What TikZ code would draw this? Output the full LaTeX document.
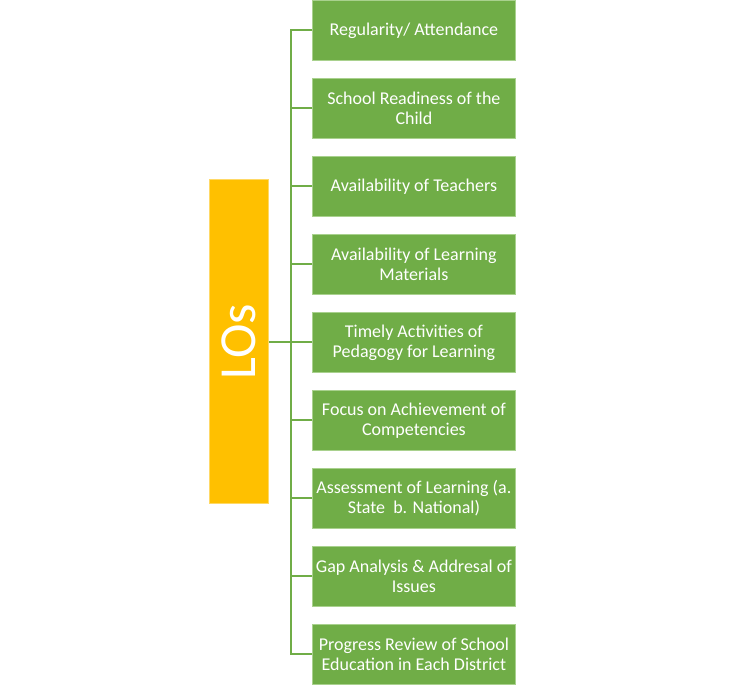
\documentclass[tikz,border=0pt]{standalone}
\usepackage{fontspec}
\setmainfont{Carlito}
\usepackage{tikz}
\usetikzlibrary{positioning}
\definecolor{leafgreen}{RGB}{112,173,71}
\definecolor{leafedge}{RGB}{169,209,142}
\definecolor{rootgold}{RGB}{255,192,0}

\begin{document}
\begin{tikzpicture}[
    x=1pt, y=-1pt,
    node distance=18pt,
    leaf/.style={draw=leafedge, line width=0.8pt, fill=leafgreen, text=white, minimum width=202.2pt, minimum height=59.2pt, inner sep=1pt, align=center, font=\fontsize{18}{20}\selectfont},
    root/.style={draw=rootgold!60, line width=0.8pt, fill=rootgold, text=white, minimum width=324.2pt, minimum height=59.2pt, rotate=90, font=\fontsize{52}{56}\selectfont},
    link/.style={draw=leafgreen, line width=2pt}
  ]
  \useasboundingbox (0,0) rectangle (729,686);

  % Root
  \node[root] (los) at (239,341.5) {LOs};

  % Leaves
  \node[leaf, anchor=north west] (b1) at (312.4,0.4) {Regularity/ Attendance};
  \node[leaf, below=of b1] (b2) {School Readiness of the\\Child};
  \node[leaf, below=of b2] (b3) {Availability of Teachers};
  \node[leaf, below=of b3] (b4) {Availability of Learning\\Materials};
  \node[leaf, below=of b4] (b5) {Timely Activities of\\Pedagogy for Learning};
  \node[leaf, below=of b5] (b6) {Focus on Achievement of\\Competencies};
  \node[leaf, below=of b6] (b7) {Assessment of Learning (a.\\State\ \ b. National)};
  \node[leaf, below=of b7] (b8) {Gap Analysis \& Addresal of\\Issues};
  \node[leaf, below=of b8] (b9) {Progress Review of School\\Education in Each District};

  % Connections
  \coordinate (spine) at (291,0);
  \draw[link] (b1.west) -- (b1.west -| spine) -- (b9.west -| spine) -- (b9.west);
  \foreach \i in {2,...,8}
    \draw[link] (b\i.west) -- (b\i.west -| spine);
  \draw[link] (los.south) -- (los.south -| spine);

\end{tikzpicture}
\end{document}
